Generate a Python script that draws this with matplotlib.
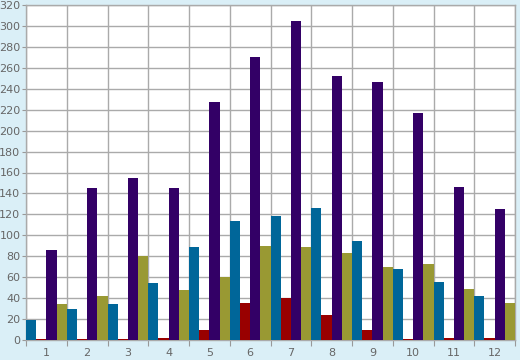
import matplotlib
matplotlib.use("Agg")
import matplotlib.pyplot as plt
import numpy as np

categories = ["1", "2", "3", "4", "5", "6", "7", "8", "9", "10", "11", "12"]
series_blue = [19, 30, 34, 54, 89, 114, 118, 126, 95, 68, 55, 42]
series_red = [1, 1, 1, 2, 10, 35, 40, 24, 10, 1, 2, 2]
series_purple = [86, 145, 155, 145, 227, 270, 305, 252, 246, 217, 146, 125]
series_olive = [34, 42, 80, 48, 60, 90, 89, 83, 70, 73, 49, 35]
y_ticks = list(range(0, 321, 20))

colors = ["#006699", "#990000", "#330066", "#999933"]
series = [series_blue, series_red, series_purple, series_olive]

fig = plt.figure(figsize=(5.2, 3.6), dpi=100)
fig.patch.set_facecolor("#daeff7")
ax = fig.add_axes([26/520, 20/360, (515-26)/520, (340-5)/360])
ax.set_facecolor("white")

n = len(categories)
x = np.arange(n)
w = 0.25
for j, (vals, c) in enumerate(zip(series, colors)):
    ax.bar(x + w/2 + j*w, vals, width=w, color=c, linewidth=0, zorder=3)

ax.set_xlim(0, n)
ax.set_ylim(0, 320)
ax.set_yticks(y_ticks)
ax.set_xticks(np.arange(0, n+1))
ax.set_xticklabels([])
ax.set_xticks(x + 0.5, minor=True)
ax.set_xticklabels(categories, minor=True)
ax.tick_params(axis="x", which="minor", length=0, pad=6, labelsize=8, labelcolor="#666666")
ax.tick_params(axis="x", which="major", length=4, color="#999999", direction="out")
ax.tick_params(axis="y", length=3, color="#999999", direction="out", pad=1, labelsize=8, labelcolor="#666666")
ax.grid(True, which="major", color="#aaaaaa", linewidth=1, zorder=0)
ax.set_axisbelow(True)
for s in ax.spines.values():
    s.set_color("#aaaaaa")
    s.set_linewidth(1)

fig.savefig("out.png", dpi=100, facecolor=fig.get_facecolor())
